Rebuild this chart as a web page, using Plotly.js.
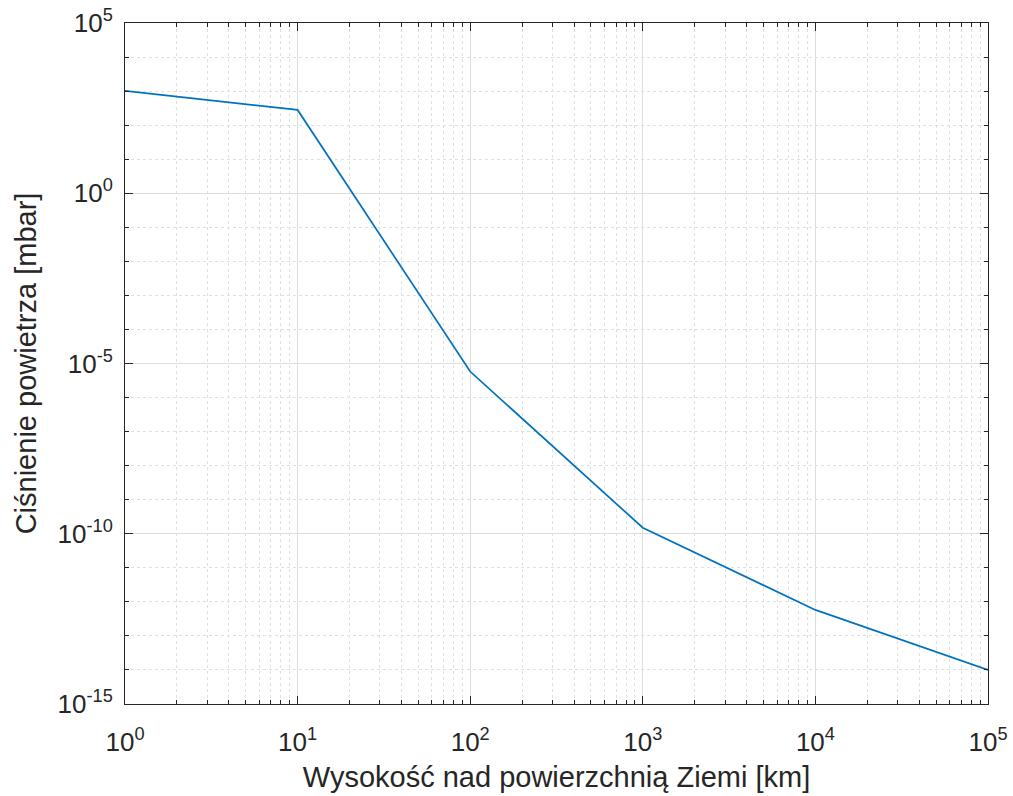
<!DOCTYPE html>
<html>
<head>
<meta charset="utf-8">
<script src="https://cdn.plot.ly/plotly-3.0.1.min.js"></script>
<style>html,body{margin:0;padding:0;background:#fff;}#chart{width:1013px;height:796px;}</style>
</head>
<body>
<div id="chart"></div>
<script>
// Altitude above Earth's surface [km]
const altitudeKm = [1, 10, 100, 1000, 10000, 100000];
// Air pressure [mbar]
const pressureMbar = [1013, 280, 5.8e-6, 1.5e-10, 5.8e-13, 1.0e-14];

const xMajorTicks = [1, 10, 100, 1000, 10000, 100000];
const xMajorLabels = ['10<sup>0</sup>', '10<sup>1</sup>', '10<sup>2</sup>', '10<sup>3</sup>', '10<sup>4</sup>', '10<sup>5</sup>'];
const yMajorTicks = [1e-15, 1e-10, 1e-5, 1, 1e5];
const yMajorLabels = ['10<sup>-15</sup>', '10<sup>-10</sup>', '10<sup>-5</sup>', '10<sup>0</sup>', '10<sup>5</sup>'];

const xMinor = [];
for (let e = 0; e < 5; e++) for (let m = 2; m <= 9; m++) xMinor.push(m * Math.pow(10, e));
const yMinor = [];
for (let e = -15; e <= 5; e++) if (e % 5 !== 0) yMinor.push(Math.pow(10, e));

const axisColor = '#262626';
const tickFont = {family: 'Liberation Sans, Arial, sans-serif', size: 26, color: axisColor};
const titleFont = {family: 'Liberation Sans, Arial, sans-serif', size: 29, color: axisColor};

const trace = {
  x: altitudeKm, y: pressureMbar, type: 'scatter', mode: 'lines',
  line: {color: '#0072BD', width: 1.7}, hoverinfo: 'x+y'
};

const commonAxis = {
  type: 'log', showline: true, linecolor: axisColor, linewidth: 1, mirror: 'allticks',
  ticks: 'inside', ticklen: 8, tickcolor: axisColor, tickmode: 'array',
  showgrid: true, gridcolor: '#dedede', gridwidth: 1, zeroline: false,
  tickfont: tickFont
};

const minorCommon = {
  tickmode: 'array', ticks: 'inside', ticklen: 4, tickcolor: axisColor,
  showgrid: true, gridcolor: '#e0e0e0', griddash: '3px,3px', gridwidth: 1
};

const layout = {
  width: 1013, height: 796,
  margin: {l: 125, r: 25, t: 23, b: 92},
  paper_bgcolor: '#fff', plot_bgcolor: '#fff',
  showlegend: false, font: tickFont,
  xaxis: Object.assign({}, commonAxis, {
    range: [0, 5], tickvals: xMajorTicks, ticktext: xMajorLabels,
    ticklabelstandoff: 15,
    title: {text: 'Wysokość nad powierzchnią Ziemi [km]', font: titleFont, standoff: 10},
    minor: Object.assign({}, minorCommon, {tickvals: xMinor})
  }),
  yaxis: Object.assign({}, commonAxis, {
    range: [-15, 5], tickvals: yMajorTicks, ticktext: yMajorLabels,
    ticklabelstandoff: 6,
    title: {text: 'Ciśnienie powietrza [mbar]', font: titleFont, standoff: 12},
    minor: Object.assign({}, minorCommon, {tickvals: yMinor})
  })
};

Plotly.newPlot('chart', [trace], layout, {displayModeBar: false, staticPlot: true});
</script>
</body>
</html>
